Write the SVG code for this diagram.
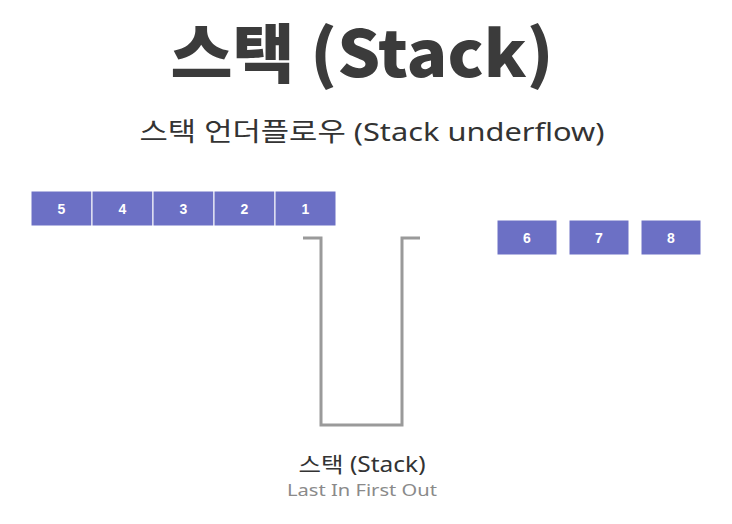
<svg xmlns="http://www.w3.org/2000/svg" width="732" height="524" viewBox="0 0 732 524">
<style>
.box{fill:#6c70c5;stroke:#ffffff;stroke-width:1}
.num{font-family:"Liberation Sans",Arial,sans-serif;font-weight:bold;font-size:14px;fill:#ffffff;text-anchor:middle}
.title{font-family:"Noto Sans CJK KR","Noto Sans",sans-serif;font-weight:900;fill:#3b3b3b;text-anchor:middle}
.sub{font-family:"Noto Sans","Noto Sans CJK KR",sans-serif;fill:#333333;text-anchor:middle}
.gray{font-family:"Noto Sans","Noto Sans CJK KR",sans-serif;fill:#8a8a8a;text-anchor:middle}
.wall{fill:none;stroke:#9a9a9a;stroke-width:3}
</style>
<rect width="732" height="524" fill="#ffffff"/>
<text class="title" x="362" y="77" font-size="64" textLength="383" lengthAdjust="spacingAndGlyphs">스택 (Stack)</text>
<text class="sub" x="372" y="141" font-size="26" textLength="465" lengthAdjust="spacingAndGlyphs">스택 언더플로우 (Stack underflow)</text>
<g id="connectors">
<path class="wall" d="M303 238 H321 V425 H402 V238 H420"/>
</g>
<g id="n5"><rect class="box" x="31" y="191" width="61" height="35"/><text class="num" x="61.5" y="214">5</text></g>
<g id="n4"><rect class="box" x="92" y="191" width="61" height="35"/><text class="num" x="122.5" y="214">4</text></g>
<g id="n3"><rect class="box" x="153" y="191" width="61" height="35"/><text class="num" x="183.5" y="214">3</text></g>
<g id="n2"><rect class="box" x="214" y="191" width="61" height="35"/><text class="num" x="244.5" y="214">2</text></g>
<g id="n1"><rect class="box" x="275" y="191" width="61" height="35"/><text class="num" x="305.5" y="214">1</text></g>
<g id="n6"><rect class="box" x="497" y="220" width="60" height="35"/><text class="num" x="527" y="243">6</text></g>
<g id="n7"><rect class="box" x="569" y="220" width="60" height="35"/><text class="num" x="599" y="243">7</text></g>
<g id="n8"><rect class="box" x="641" y="220" width="60" height="35"/><text class="num" x="671" y="243">8</text></g>
<g id="stack-label">
<text class="sub" x="362" y="472" font-size="21" textLength="127" lengthAdjust="spacingAndGlyphs">스택 (Stack)</text>
<text class="gray" x="362" y="496" font-size="17" textLength="150" lengthAdjust="spacingAndGlyphs">Last In First Out</text>
</g>
</svg>
